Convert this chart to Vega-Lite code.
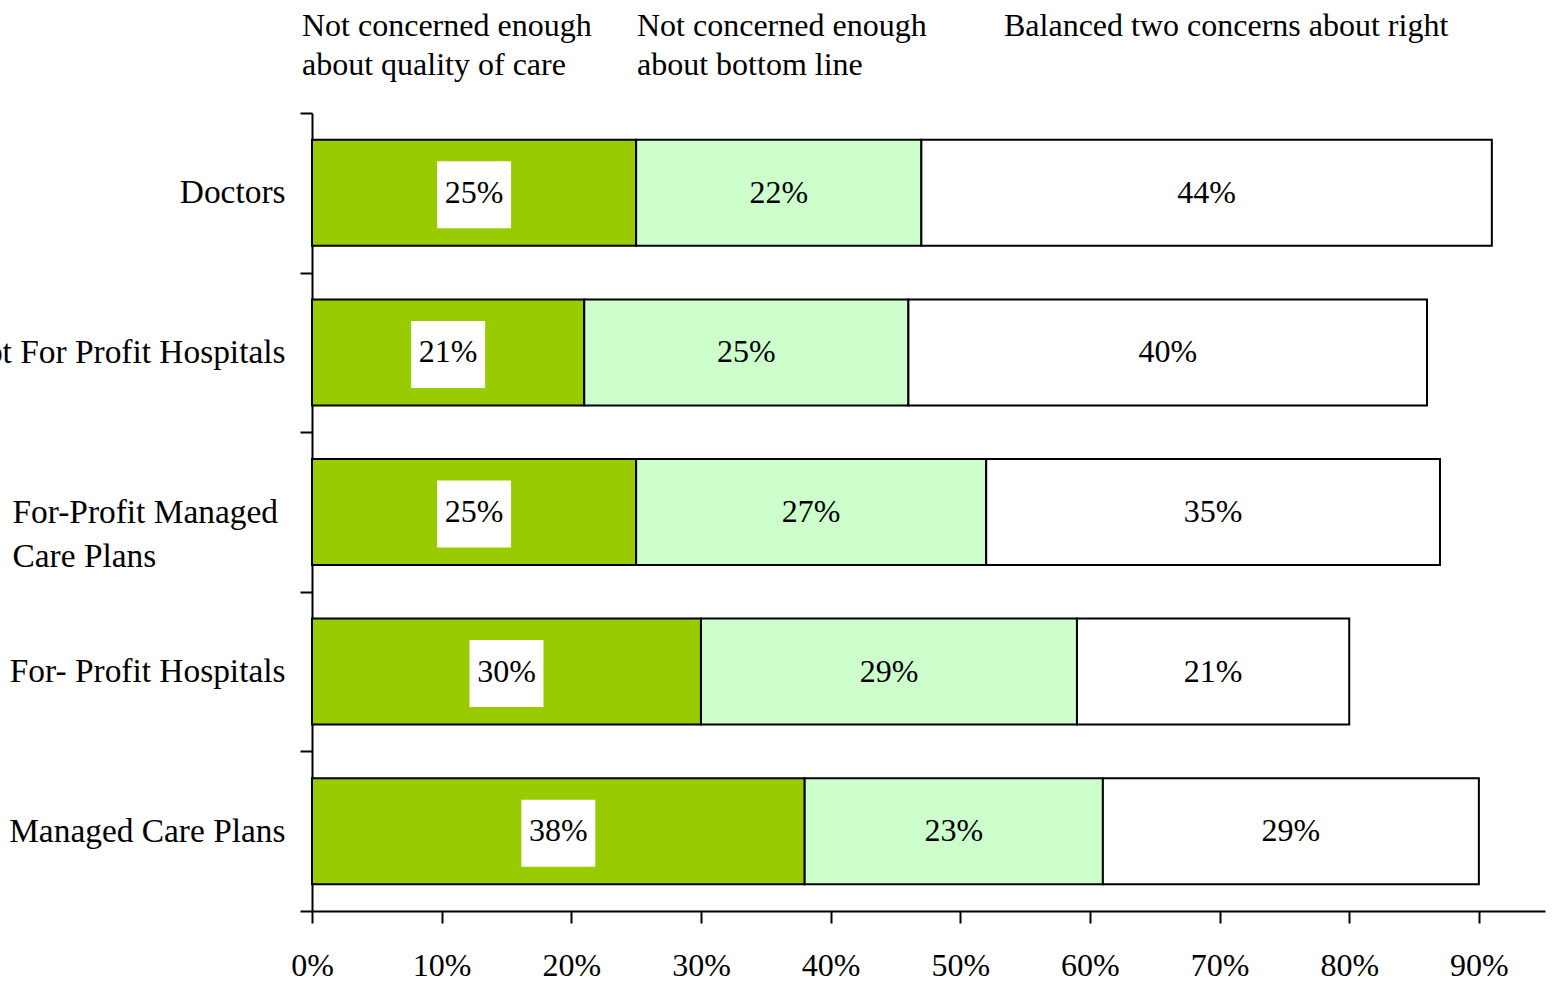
{
  "$schema": "https://vega.github.io/schema/vega-lite/v6.json",
  "width": 1233,
  "height": 798,
  "autosize": "none",
  "padding": {"left": 312, "top": 113, "right": 12, "bottom": 70},
  "background": "white",
  "config": {
    "font": "Liberation Serif",
    "view": {"stroke": null},
    "axis": {"grid": false},
    "style": {"guide-label": {"lineHeight": 39}}
  },
  "data": {
    "values": [
      {"category": "Doctors", "series": "Not concerned enough about quality of care", "order": 1, "value": 0.25},
      {"category": "Doctors", "series": "Not concerned enough about bottom line", "order": 2, "value": 0.22},
      {"category": "Doctors", "series": "Balanced two concerns about right", "order": 3, "value": 0.44},
      {"category": "Not For Profit Hospitals", "series": "Not concerned enough about quality of care", "order": 1, "value": 0.21},
      {"category": "Not For Profit Hospitals", "series": "Not concerned enough about bottom line", "order": 2, "value": 0.25},
      {"category": "Not For Profit Hospitals", "series": "Balanced two concerns about right", "order": 3, "value": 0.40},
      {"category": "For-Profit Managed Care Plans", "series": "Not concerned enough about quality of care", "order": 1, "value": 0.25},
      {"category": "For-Profit Managed Care Plans", "series": "Not concerned enough about bottom line", "order": 2, "value": 0.27},
      {"category": "For-Profit Managed Care Plans", "series": "Balanced two concerns about right", "order": 3, "value": 0.35},
      {"category": "For- Profit Hospitals", "series": "Not concerned enough about quality of care", "order": 1, "value": 0.30},
      {"category": "For- Profit Hospitals", "series": "Not concerned enough about bottom line", "order": 2, "value": 0.29},
      {"category": "For- Profit Hospitals", "series": "Balanced two concerns about right", "order": 3, "value": 0.21},
      {"category": "Managed Care Plans", "series": "Not concerned enough about quality of care", "order": 1, "value": 0.38},
      {"category": "Managed Care Plans", "series": "Not concerned enough about bottom line", "order": 2, "value": 0.23},
      {"category": "Managed Care Plans", "series": "Balanced two concerns about right", "order": 3, "value": 0.29}
    ]
  },
  "transform": [
    {"stack": "value", "groupby": ["category"], "sort": [{"field": "order", "order": "ascending"}], "as": ["v0", "v1"]},
    {"calculate": "(datum.v0 + datum.v1) / 2", "as": "mid"}
  ],
  "encoding": {
    "y": {
      "field": "category",
      "type": "nominal",
      "sort": ["Doctors", "Not For Profit Hospitals", "For-Profit Managed Care Plans", "For- Profit Hospitals", "Managed Care Plans"],
      "scale": {"paddingInner": 0, "paddingOuter": 0},
      "axis": {
        "title": null,
        "domainColor": "black",
        "domainWidth": 2,
        "tickColor": "black",
        "tickWidth": 2,
        "tickSize": 12,
        "tickBand": "extent",
        "labelFontSize": 33.4,
        "labelFont": "Liberation Serif",
        "labelColor": "black",
        "labelLimit": 1000,
        "labelLineHeight": 44,
        "labelAlign": {"condition": {"test": "datum.value == 'For-Profit Managed Care Plans'", "value": "left"}, "value": "right"},
        "labelPadding": {"condition": {"test": "datum.value == 'For-Profit Managed Care Plans'", "value": 288}, "value": 15},
        "labelExpr": "datum.label == 'For-Profit Managed Care Plans' ? ['For-Profit Managed', 'Care Plans'] : datum.label"
      }
    }
  },
  "layer": [
    {
      "mark": {"type": "bar", "stroke": "black", "strokeWidth": 2, "height": {"band": 0.664}},
      "encoding": {
        "x": {
          "field": "v0",
          "type": "quantitative",
          "scale": {"domain": [0, 0.951], "nice": false, "zero": true},
          "axis": {
            "title": null,
            "values": [0, 0.1, 0.2, 0.3, 0.4, 0.5, 0.6, 0.7, 0.8, 0.9],
            "format": ".0%",
            "domainColor": "black",
            "domainWidth": 2,
            "tickColor": "black",
            "tickWidth": 2,
            "tickSize": 12,
            "labelFontSize": 32,
            "labelFont": "Liberation Serif",
            "labelColor": "black",
            "labelPadding": 27,
            "labelFlush": false,
            "grid": false
          }
        },
        "x2": {"field": "v1"},
        "fill": {
          "field": "series",
          "type": "nominal",
          "scale": {
            "domain": ["Not concerned enough about quality of care", "Not concerned enough about bottom line", "Balanced two concerns about right"],
            "range": ["#99CC00", "#CCFFCC", "#FFFFFF"]
          },
          "legend": {
            "orient": "none",
            "legendX": -42,
            "legendY": -118,
            "direction": "horizontal",
            "title": null,
            "padding": 0,
            "symbolSize": 0,
            "symbolStrokeWidth": 0,
            "symbolOpacity": 0,
            "labelOffset": 0,
            "labelFontSize": 32,
            "labelFont": "Liberation Serif",
            "labelColor": "black",
            "labelBaseline": "top",
            "labelLimit": 1000,
            "columnPadding": 13,
            "labelExpr": "datum.label == 'Not concerned enough about quality of care' ? ['Not concerned enough', 'about quality of care'] : datum.label == 'Not concerned enough about bottom line' ? ['Not concerned enough    \u200b', 'about bottom line'] : ['Balanced two concerns about right', '']"
          }
        }
      }
    },
    {
      "transform": [{"filter": "datum.order == 1"}],
      "mark": {"type": "point", "shape": "M-1,-0.905L1,-0.905L1,0.905L-1,0.905Z", "size": 5476, "filled": true, "fill": "white", "opacity": 1, "strokeWidth": 0, "yOffset": 2},
      "encoding": {"x": {"field": "mid", "type": "quantitative"}}
    },
    {
      "mark": {"type": "text", "fontSize": 32, "font": "Liberation Serif", "color": "black", "align": "center", "baseline": "middle"},
      "encoding": {
        "x": {"field": "mid", "type": "quantitative"},
        "text": {"field": "value", "type": "quantitative", "format": ".0%"}
      }
    }
  ]
}
